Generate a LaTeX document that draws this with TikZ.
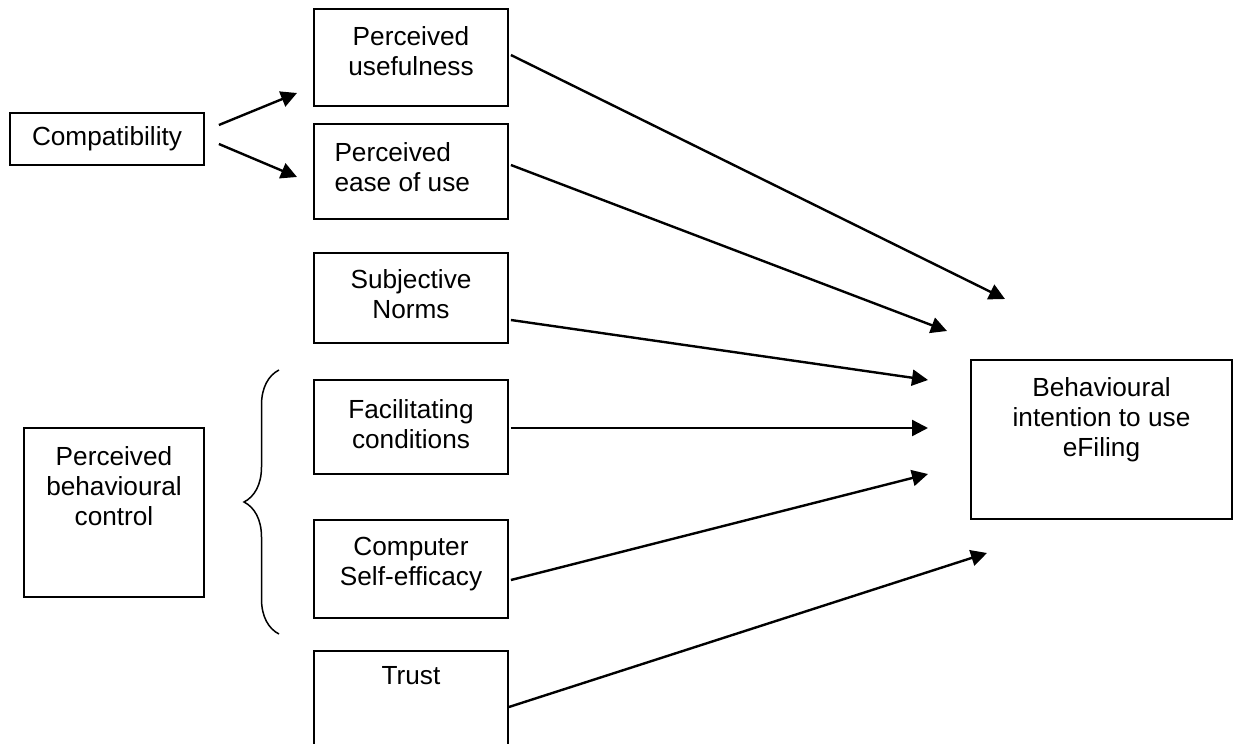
\documentclass[tikz,border=0pt]{standalone}
\usepackage{fontspec}
\setmainfont{Liberation Sans}
\usetikzlibrary{arrows.meta,calc,decorations.pathreplacing}

\begin{document}
\begin{tikzpicture}[
  x=0.5pt,y=-0.5pt,
  font=\fontsize{13.1}{15}\selectfont,
  box/.style={draw,line width=0.9pt,minimum width=97pt,inner sep=0pt},
  boxtext/.style={anchor=north,align=center,inner sep=0pt},
  arrow/.style={-{Triangle[length=8pt,width=8pt]},line width=1.2pt},
  grouping/.style={decorate,decoration={brace,amplitude=17.5pt},line width=0.75pt}
]
  \clip (0,0) rectangle (1237,744);

  % constructs
  \node[box,minimum height=26pt] (compat) at (107,139) {Compatibility};
  \node[box,minimum height=48.5pt,label={[boxtext,yshift=-9pt]north:Perceived\\usefulness}] (pu) at (411,57.5) {};
  \node[box,minimum height=47.5pt,label={[boxtext,anchor=north west,align=left,xshift=10.5pt,yshift=-9.5pt]north west:Perceived\\ease of use}] (peu) at (411,171.5) {};
  \node[box,minimum height=45pt,label={[boxtext,yshift=-8.5pt]north:Subjective\\Norms}] (sn) at (411,298) {};
  \node[box,minimum height=47pt,label={[boxtext,yshift=-10pt]north:Facilitating\\conditions}] (fc) at (411,427) {};
  \node[box,minimum height=49pt,label={[boxtext,yshift=-9pt]north:Computer\\Self-efficacy}] (cse) at (411,569) {};
  \node[box,minimum height=54.5pt,label={[boxtext,yshift=-8pt]north:Trust}] (trust) at (411,705.5) {};
  \node[box,minimum width=90pt,minimum height=84.5pt,label={[boxtext,yshift=-9.5pt]north:Perceived\\behavioural\\control}] (pbc) at (114,512.5) {};
  \node[box,minimum width=130.5pt,minimum height=79.5pt,label={[boxtext,yshift=-9pt]north:Behavioural\\intention to use\\eFiling}] (bi) at (1101.5,439.5) {};

  % free arrow ends
  \coordinate (tip-pu) at (1005,299);
  \coordinate (tip-peu) at (947,331);
  \coordinate (tip-sn) at (928,380);
  \coordinate (tip-fc) at (928,428);
  \coordinate (tip-cse) at (928,474);
  \coordinate (tip-trust) at (987,553);
  \coordinate (tip-cpu) at (297,93);
  \coordinate (tip-cpeu) at (297,177);

  \draw[arrow] ($(compat.east)+(14,-14)$) -- (tip-cpu);
  \draw[arrow] ($(compat.east)+(14,5)$) -- (tip-cpeu);
  \draw[arrow] ($(pu.east)+(2,-2.5)$) -- (tip-pu);
  \draw[arrow] ($(peu.east)+(2,-6.5)$) -- (tip-peu);
  \draw[arrow] ($(sn.east)+(2,22)$) -- (tip-sn);
  \draw[arrow] ($(fc.east)+(2,1)$) -- (tip-fc);
  \draw[arrow] ($(cse.east)+(2,11)$) -- (tip-cse);
  \draw[arrow] ($(trust.east)+(0,1.5)$) -- (tip-trust);

  \draw[grouping] (279,634) -- (279,370);
\end{tikzpicture}
\end{document}
